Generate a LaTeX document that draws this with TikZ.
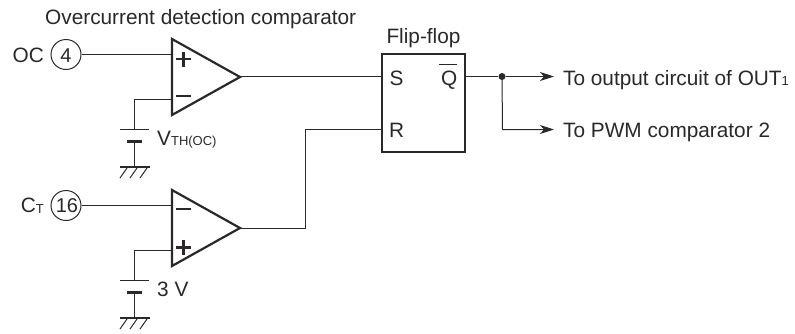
\documentclass[tikz,border=0pt]{standalone}
\usepackage{fontspec}
\setmainfont{Liberation Sans}
\usetikzlibrary{arrows.meta,calc}
\definecolor{ink}{HTML}{2B2829}
\newcommand{\subtxt}[1]{\raisebox{-0.5pt}{\fontsize{13}{14}\selectfont #1}}
\tikzset{
  wire/.style={draw=ink,line width=1pt},
  amp/.style={draw=ink,line width=2.2pt,line join=miter,fill=white},
  sign/.style={draw=ink,line width=2.2pt},
  pin/.style={circle,draw=ink,line width=1pt,minimum size=30pt,inner sep=0pt,font=\fontsize{20}{20}\selectfont,text=ink},
  lbl/.style={inner sep=0pt,text=ink,font=\fontsize{20.8}{23}\selectfont},
  head/.style={-{Stealth[length=14pt,width=9pt,inset=4pt]}},
  dotn/.style={circle,fill=ink,inner sep=0pt,minimum size=7pt},
  ffbox/.style={draw=ink,line width=2pt,minimum width=83pt,minimum height=98pt,inner sep=0pt}
}
\begin{document}
\begin{tikzpicture}[x=1pt,y=-1pt]
\useasboundingbox (0,0) rectangle (795,333);
% pins
\node[pin] (p4) at (66,54.5) {};
\node[pin] (p16) at (66,205.5) {};
\node[inner sep=0pt,text=ink,font=\fontsize{20}{20}\selectfont,anchor=base] (n4) at (66,62) {4};
\node[inner sep=0pt,text=ink,font=\fontsize{20}{20}\selectfont,anchor=base] (n16) at (67,212.7) {16};
\node[lbl,anchor=base east] (oc) at (44,62) {OC};
\node[lbl,anchor=base east] (ct) at (44,212.7) {C\subtxt{T}};
% flip-flop
\node[ffbox] (ff) at (423.5,103) {};
\node[lbl,anchor=base] (fft) at (423.5,43) {Flip-flop};
\node[lbl,anchor=base west] (s) at (389.5,85) {S};
\node[lbl,anchor=base west] (r) at (389,137) {R};
\node[lbl,anchor=base west] (q) at (441,85) {Q};
\draw[ink,line width=1pt] (439,64.5) -- (457,64.5);
% named points
\coordinate (t1) at (240,76.5);
\coordinate (t2) at (240,228);
\coordinate (s1) at (381,76.5);
\coordinate (r1) at (381,129.5);
\coordinate (bend1) at (305,228.5);
\coordinate (bend2) at (305,129.5);
\coordinate (q1) at (466,76.5);
\node[dotn] (d) at (502,76.5) {};
\coordinate (e1) at (554,76.5);
\coordinate (b3) at (502.5,129.5);
\coordinate (e2) at (554,129.5);
% wires
\draw[wire] (p4.east) -- (172,54.5);
\draw[wire] (p16.east) -- (172,205.5);
\draw[wire] (t1) -- (s1);
\draw[wire] (240,228.5) -- (bend1) -- (bend2) -- (r1);
\draw[wire] (q1) -- (d);
\draw[wire,head] (d) -- (e1);
\draw[wire,head] (d.center) -- (b3) -- (e2);
% battery circuits
\foreach \dy in {0,151}{
  \begin{scope}[yshift=-\dy pt]
    \draw[wire] (172,99.5) -- (134.5,99.5) -- (134.5,129);
    \draw[draw=ink,line width=1.2pt] (120,129.5) -- (149,129.5);
    \draw[draw=ink,line width=3.6pt] (127,141.5) -- (142,141.5);
    \draw[wire] (134.5,141.5) -- (134.5,167);
    \draw[draw=ink,line width=2.4pt] (120,167) -- (149.5,167);
    \foreach \hx in {127,137,147}
      \draw[draw=ink,line width=1pt] (\hx,168) -- (\hx-7,178);
  \end{scope}
}
% amplifiers
\draw[amp] (172,39) -- (240,77) -- (172,115) -- cycle;
\draw[amp] (172,190) -- (240,228) -- (172,266) -- cycle;
\draw[sign] (176,59) -- (191,59) (183.5,51.5) -- (183.5,66.5);
\draw[sign] (176,96) -- (191,96);
\draw[sign] (176,209) -- (191,209);
\draw[sign] (176,247.5) -- (191,247.5) (183.5,240) -- (183.5,255);
% labels
\node[lbl,anchor=base west] (ttl) at (45,24) {Overcurrent detection comparator};
\node[lbl,anchor=base west] (vth) at (157,145) {V\subtxt{TH(OC)}};
\node[lbl,anchor=base west] (v3) at (157,296) {3 V};
\node[lbl,anchor=base west] (o1) at (563,85) {To output circuit of OUT\subtxt{1}};
\node[lbl,anchor=base west] (o2) at (563,137) {To PWM comparator 2};
\end{tikzpicture}
\end{document}
